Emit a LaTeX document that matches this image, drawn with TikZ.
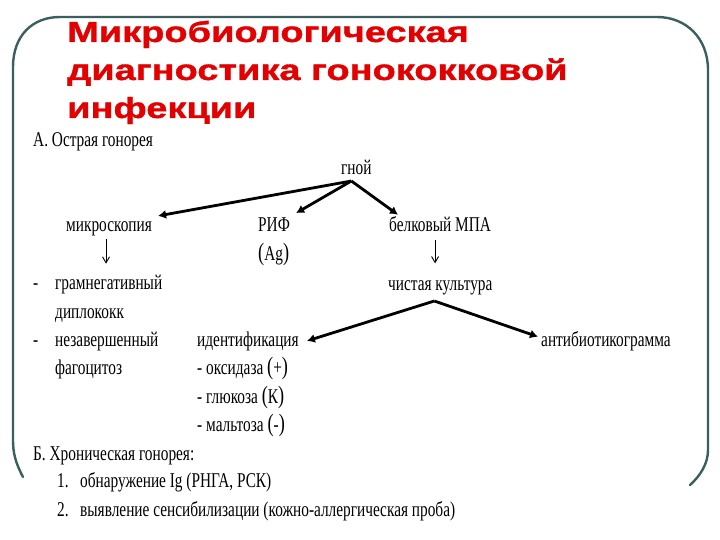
\documentclass[tikz,border=0pt]{standalone}
\usepackage{fontspec}
\setmainfont{Liberation Serif}
\newfontfamily\titlefont[FakeStretch=1.31,FakeBold=1.2]{Liberation Sans}
\newfontfamily\bodyfont[FakeStretch=0.73]{Liberation Serif}
\usetikzlibrary{arrows.meta,calc}
\definecolor{framecol}{RGB}{59,94,94}
\definecolor{titlered}{RGB}{226,0,0}
\newcommand{\bigp}[1]{{\fontsize{25}{25}\selectfont #1}}
\tikzset{
  ttl/.style={anchor=base west, inner sep=0pt, text=titlered,
    font=\titlefont\bfseries\fontsize{29}{35}\selectfont},
  txt/.style={anchor=base west, inner sep=0pt,
    font=\bodyfont\fontsize{21}{25}\selectfont},
  thickarr/.style={line width=2.8pt, -{Latex[length=8pt,width=9pt]}},
  thinarr/.style={line width=0.9pt, -{Straight Barb[length=6pt,width=7pt]}},
  framestyle/.style={draw=framecol, line width=2.4pt, line cap=round}
}
\begin{document}
\begin{tikzpicture}[x=1pt,y=-1pt]
\useasboundingbox (0,0) rectangle (720,540);
\fill[white] (0,0) rectangle (720,540);
% frame
\draw[framestyle] (23,477) .. controls (15,462) and (13,452) .. (13,440)
  -- (13,67) .. controls (13,36) and (32,17) .. (60,17)
  -- (657,17) .. controls (686,17) and (708,38) .. (708,70)
  -- (708,450) .. controls (708,464) and (700,476) .. (690,485);
% title
\node[ttl] (t1) at (67,42) {Микробиологическая};
\node[ttl] (t2) at (67,80) {диагностика гонококковой};
\node[ttl] (t3) at (67,118) {инфекции};
% part A
\node[txt] (A) at (33,147) {А. Острая гонорея};
\node[txt] (gnoi) at (341,175) {гной};
\node[txt] (micro) at (66,232) {микроскопия};
\node[txt] (rif) at (258,232) {РИФ};
\node[txt] (ag) at (258,260) {\bigp{(}Ag\bigp{)}};
\node[txt] (belk) at (389,232) {белковый МПА};
\node[txt] (d1) at (33,289) {-};
\node[txt] (gram) at (55,289) {грамнегативный};
\node[txt] (dipl) at (55,318) {диплококк};
\node[txt] (d2) at (33,346) {-};
\node[txt] (nezav) at (55,346) {незавершенный};
\node[txt] (fago) at (55,374) {фагоцитоз};
\node[txt] (chist) at (388,290) {чистая культура};
\node[txt] (ident) at (197,346) {идентификация};
\node[txt] (antib) at (541,346) {антибиотикограмма};
\node[txt] (oks) at (197,374) {- оксидаза \bigp{(}+\bigp{)}};
\node[txt] (glu) at (197,403) {- глюкоза \bigp{(}К\bigp{)}};
\node[txt] (mal) at (197,431) {- мальтоза \bigp{(}-\bigp{)}};
% part B
\node[txt] (B) at (33,460) {Б. Хроническая гонорея:};
\node[txt] (n1) at (57,487) {1.};
\node[txt] (b1) at (80,487) {обнаружение Ig (РНГА, РСК)};
\node[txt] (n2) at (57,516) {2.};
\node[txt] (b2) at (80,516) {выявление сенсибилизации (кожно-аллергическая проба)};
% connectors
\coordinate (g1) at ($(gnoi.base)+(-5,6)$);
\coordinate (g2) at ($(chist.base)+(-6,11)$);
\draw[thickarr] (g1) -- ($(micro.north east)+(6,-6)$);
\draw[thickarr] (g1) -- ($(rif.north east)+(6,-5)$);
\draw[thickarr] (g1) -- ($(belk.north west)+(9,-2)$);
\draw[thinarr] ($(micro.south)+(-3,2)$) -- ($(micro.south)+(-3,27)$);
\draw[thinarr] ($(belk.south)+(-5,8)$) -- ($(belk.south)+(-5,31)$);
\draw[thickarr] (g2) -- ($(ident.east)+(8,0)$);
\draw[thickarr] (g2) -- ($(antib.west)+(-3,-4)$);
\end{tikzpicture}
\end{document}
